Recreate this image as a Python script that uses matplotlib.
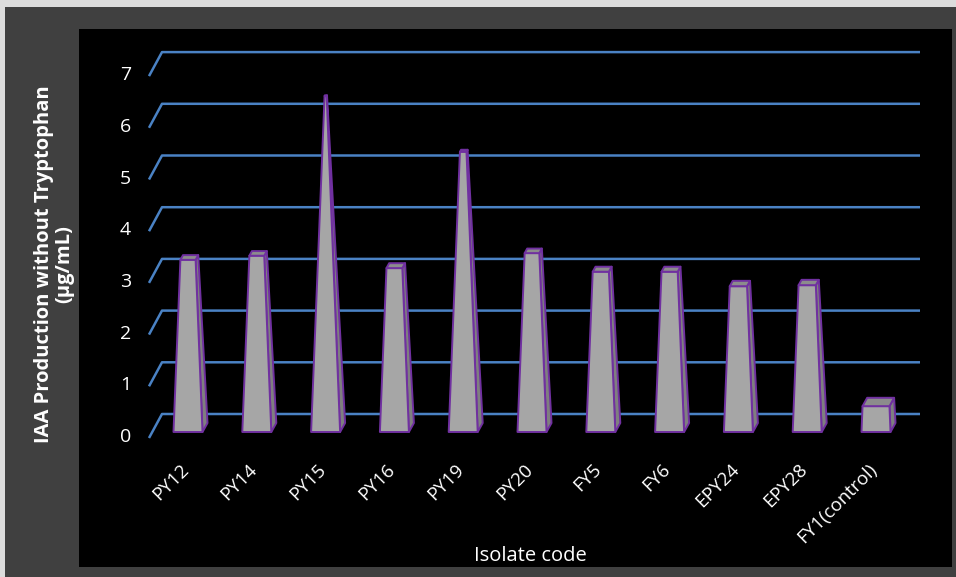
import matplotlib
matplotlib.use("Agg")
import matplotlib.pyplot as plt
from matplotlib.patches import Polygon

# data
isolates = ["PY12", "PY14", "PY15", "PY16", "PY19", "PY20",
            "FY5", "FY6", "EPY24", "EPY28", "FY1(control)"]
iaa = [3.33, 3.41, 6.5, 3.17, 5.42, 3.46, 3.10, 3.10, 2.82, 2.84, 0.50]
yticks = [0, 1, 2, 3, 4, 5, 6, 7]

plt.rcParams['font.family'] = ['Open Sans', 'DejaVu Sans']

W, H = 956, 577
fig = plt.figure(figsize=(W / 100, H / 100), dpi=100, facecolor="#dcdcdc")
# dark chart frame
frame = fig.add_axes([5 / W, 0, 1 - 5 / W, 1 - 7 / H])
frame.set_facecolor("#404040")
frame.set_xticks([])
frame.set_yticks([])
for s in frame.spines.values():
    s.set_visible(False)

# black plot area, pixel mapping: x = 188 + 68.8*i, y = 432 - 51.7*v (from top)
left, right, top, bottom = 79, 952, 29, 567
ax = fig.add_axes([left / W, 1 - bottom / H, (right - left) / W, (bottom - top) / H])
ax.set_facecolor("black")
sx, sy = 68.8, 51.7
ax.set_xlim((left - 188) / sx, (right - 188) / sx)
ax.set_ylim((432 - bottom) / sy, (432 - top) / sy)
ax.set_xticks([])
ax.set_yticks([])
for s in ax.spines.values():
    s.set_visible(False)

# perspective gridlines (back wall + slanted floor edge)
back = 18 / sy
front = -6 / sy
x0, x1, x2 = (149 - 188) / sx, (162 - 188) / sx, (920 - 188) / sx
for v in yticks:
    ax.plot([x0, x1, x2], [v + front, v + back, v + back], color="#4a82c4", lw=1.8,
            solid_capstyle="butt", zorder=1)
    ax.text((131 - 188) / sx, v - 0.1, str(v), color="white", fontsize=14,
            ha="right", va="center")

# truncated pyramids, apex at chart max
apex = max(yticks)
w0 = 14.5 / sx
dx0, dy0 = 5 / sx, 9 / sy
for i, v in enumerate(iaa):
    f = 1 - v / apex
    w, dx, dy = w0 * f, dx0 * f, dy0 * f
    front_face = [(i - w0, 0), (i + w0, 0), (i + w, v), (i - w, v)]
    side = [(i + w0, 0), (i + w0 + dx0, dy0), (i + w + dx, v + dy), (i + w, v)]
    top_face = [(i - w, v), (i + w, v), (i + w + dx, v + dy), (i - w + dx, v + dy)]
    for pts, col in [(side, "#7f7f7f"), (front_face, "#a6a6a6"), (top_face, "#8c8c8c")]:
        ax.add_patch(Polygon(pts, closed=True, facecolor=col, edgecolor="#7030a0",
                             lw=1.4, joinstyle="round", zorder=3))
    ax.text(i + 0.06, -0.55, isolates[i], color="white", fontsize=13.5, rotation=45,
            ha="right", va="top")

ax.text((530 - 188) / sx, (432 - 556) / sy, "Isolate code", color="white",
        fontsize=14.5, ha="center", va="center")

fig.text(54 / W, 1 - 264 / H, "IAA Production without Tryptophan\n(\u00b5g/mL)",
         color="white", fontsize=14.5, fontweight="bold", rotation=90,
         ha="center", va="center", linespacing=1.05, multialignment="center")

fig.savefig("out.png", dpi=100, facecolor=fig.get_facecolor())
